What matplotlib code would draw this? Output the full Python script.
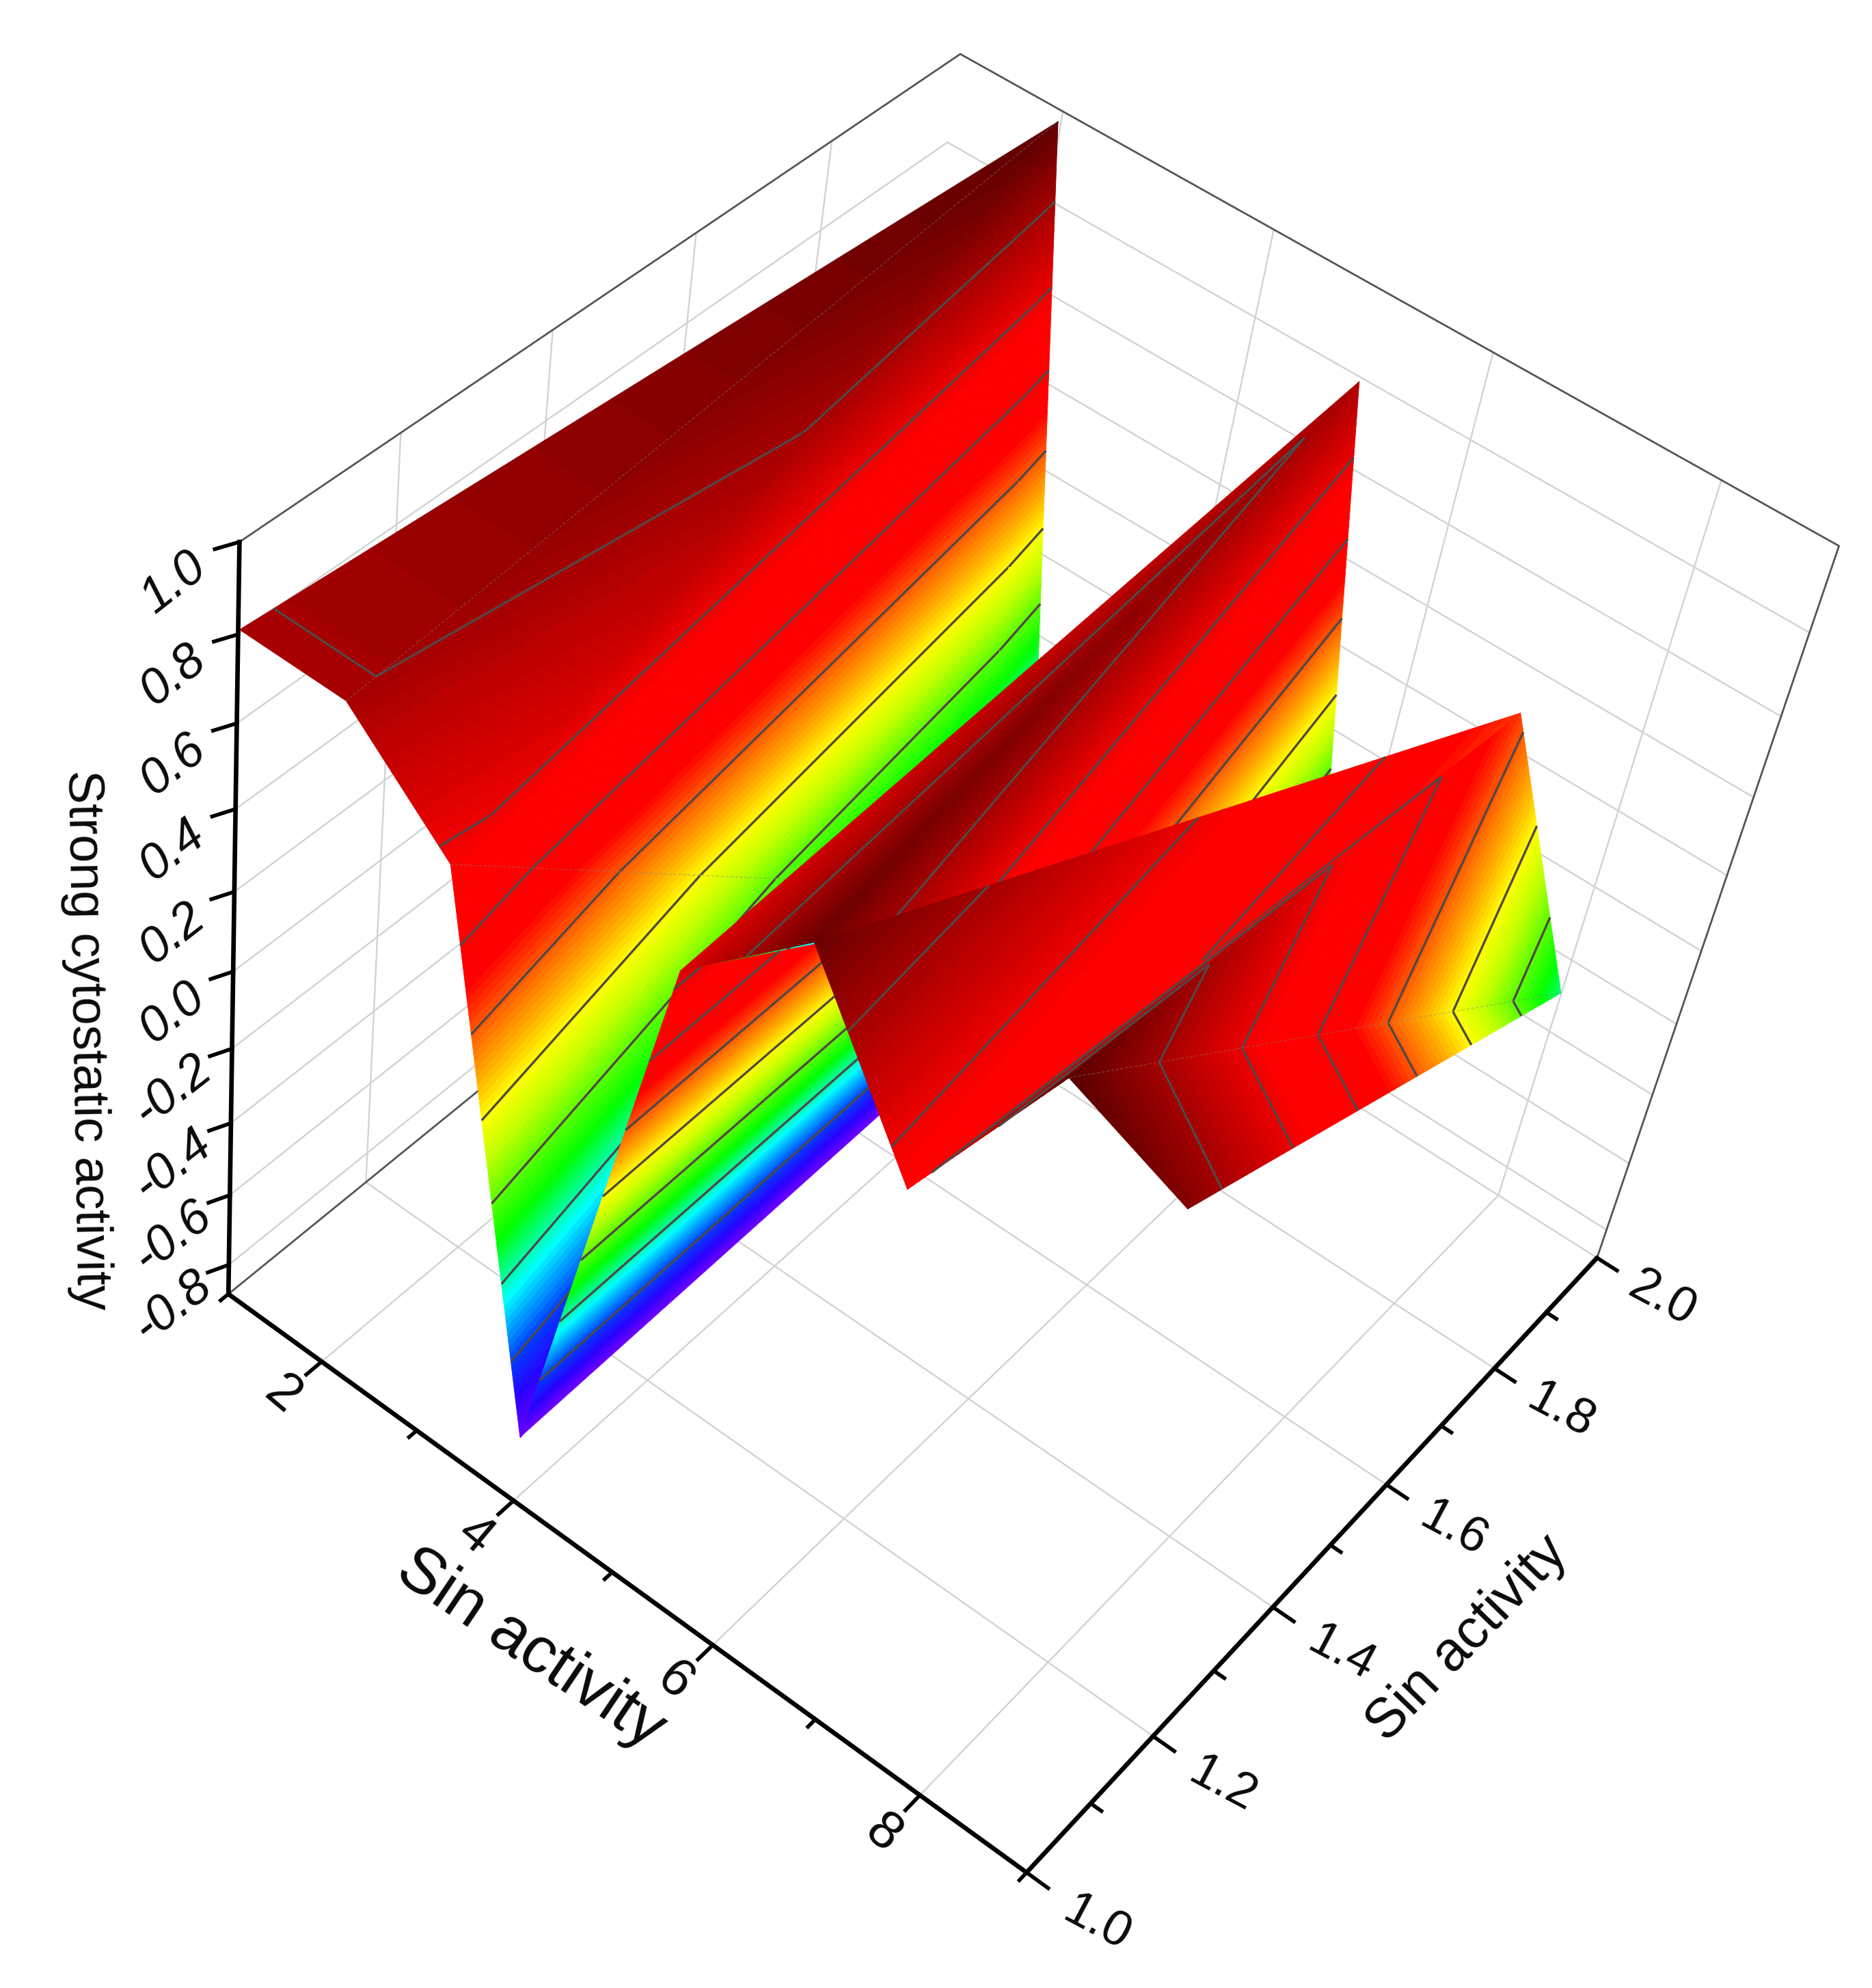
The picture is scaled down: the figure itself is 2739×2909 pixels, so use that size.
import numpy as np, matplotlib
matplotlib.use('Agg')
import matplotlib.pyplot as plt
from matplotlib.colors import LinearSegmentedColormap
from mpl_toolkits.mplot3d import proj3d
from mpl_toolkits.mplot3d.art3d import Poly3DCollection, Line3DCollection

plt.rcParams['font.family'] = ['Liberation Sans', 'DejaVu Sans']

# ---------- data ----------
names = ['A','B','C','D','E','G','F','I','H','J','Q','K','T','L','R','N','O']
xv = [0.953,1.947,2.918,3.802,4.871,6.018,6.936,8.004,9.001,1.992,2.743,2.591,3.76,4.963,5.561,6.909,7.882]
yv = [1.008,1.007,1.011,1.034,1.022,0.998,1.014,1.002,1.004,1.996,1.930,2.063,2.07,2.006,2.084,2.026,2.039]
zv = [0.793,0.793,0.576,-0.80,0.65,0.95,0.525,1.0,0.89,0.98,-0.80,-0.80,-0.80,0.78,-0.80,0.24,-0.37]
# drawn back to front
faces = ['ABJ','BCJ','CQJ','QKJ','CDQ','DKQ','DTE','GLR','EGL','INO','IHO','FIN','GFN']
seam_after = {'BJ':1,'CQ':5,'IO':10}
contour_levels = [-0.6,-0.4,-0.2,0.0,0.2,0.4,0.6,0.8]
cmap_z = [-0.8,-0.7,-0.6,-0.5,-0.45,-0.4,-0.3,-0.2,-0.1,0.0,0.1,0.2,0.3,0.55,0.8,1.0]
cmap_rgb = ['#6e00ff','#2800ff','#003cff','#00beff','#00ffff','#00ffaa','#00ff00','#5aff00','#beff00','#ffff00',
            '#ffaa00','#ff5a00','#ff0000','#ff0000','#a50000','#5a0000']
xmaj = [2,4,6,8]; xmin = [1,3,5,7,9]
ymaj = [1.0,1.2,1.4,1.6,1.8,2.0]; ymin = [1.1,1.3,1.5,1.7,1.9]
zmaj = [-0.8,-0.6,-0.4,-0.2,0.0,0.2,0.4,0.6,0.8,1.0]
XL = (1,9); YL = (1,2); ZL = (-0.886,1)

# ---------- figure and camera ----------
W, H = 2739, 2909
fig = plt.figure(figsize=(W/100, H/100), dpi=100, facecolor='white')
ax = fig.add_subplot(projection='3d', computed_zorder=False)
ax.set_xlim(*XL, view_margin=0); ax.set_ylim(*YL, view_margin=0); ax.set_zlim(*ZL, view_margin=0)
ax.view_init(45.76585, -60.21161, -10.33508)
ax.set_proj_type('persp', focal_length=0.490532)
ax.set_box_aspect((0.999692, 1.002809, 1))
ax.set_axis_off()
S, TX, TY = 14094.9885, 1452.2701, 1374.1629
vl = ax.viewLim
ax.set_position([(TX+S*vl.x0)/W, 1-(TY-S*vl.y0)/H, S*vl.width/W, S*vl.height/H])

cmap = LinearSegmentedColormap.from_list('origin', [((z-cmap_z[0])/(cmap_z[-1]-cmap_z[0]), c) for z, c in zip(cmap_z, cmap_rgb)], N=512)
def colour(z):
    return cmap((z-cmap_z[0])/(cmap_z[-1]-cmap_z[0]))

idx = {n:i for i,n in enumerate(names)}
P = np.c_[xv,yv,zv]
GRID = '#d2d2d2'; EDGE = '#555555'; CONT = '#504848'; TXT = '#0a0a0a'

def line(xs, ys, zs, **k):
    ax.plot(xs, ys, zs, clip_on=False, **k)

M = ax.get_proj()
def label(x, y, z, s, **k):
    u, v, _ = proj3d.proj_transform(np.array([x],float), np.array([y],float), np.array([z],float), M)
    ax.text2D(float(u[0]), float(v[0]), s, transform=ax.transData, ha='center', va='center',
              rotation_mode='anchor', zorder=70, color=TXT, clip_on=False, **k)

# grid
GW = 1.7
for v in xmaj:
    line([v,v],[YL[0],YL[1]],[ZL[0],ZL[0]],color=GRID,lw=GW,zorder=1)
    line([v,v],[YL[1],YL[1]],[ZL[0],ZL[1]],color=GRID,lw=GW,zorder=1)
for v in ymaj[1:-1]:
    line([XL[0],XL[1]],[v,v],[ZL[0],ZL[0]],color=GRID,lw=GW,zorder=1)
    line([XL[0],XL[0]],[v,v],[ZL[0],ZL[1]],color=GRID,lw=GW,zorder=1)
for v in zmaj[:-1]:
    line([XL[0],XL[0]],[YL[0],YL[1]],[v,v],color=GRID,lw=GW,zorder=1)
    line([XL[0],XL[1]],[YL[1],YL[1]],[v,v],color=GRID,lw=GW,zorder=1)
line([XL[0],XL[1]],[YL[1],YL[1]],[ZL[0],ZL[0]],color=GRID,lw=GW,zorder=1)
# box
line([XL[0],XL[0],XL[1],XL[1]],[YL[0],YL[1],YL[1],YL[1]],[ZL[1],ZL[1],ZL[1],ZL[0]],color=EDGE,lw=2.0,zorder=2)
line([XL[0],XL[0]],[YL[0],YL[1]],[ZL[0],ZL[0]],color=EDGE,lw=2.0,zorder=2)

# surface, band by band
def clip(poly, lo, hi):
    def cut(pts, lim, keep_above):
        out = []
        n = len(pts)
        for i in range(n):
            a, b = pts[i], pts[(i+1) % n]
            ina = a[2] >= lim if keep_above else a[2] <= lim
            inb = b[2] >= lim if keep_above else b[2] <= lim
            if ina: out.append(a)
            if ina != inb:
                out.append(a+(lim-a[2])/(b[2]-a[2])*(b-a))
        return out
    first = cut(list(poly), lo, True)
    return cut(first, hi, False) if first else []

def level_seg(tri, lev):
    pts = []
    for i in range(3):
        a, b = tri[i], tri[(i+1) % 3]
        if (a[2]-lev)*(b[2]-lev) < 0:
            pts.append(a+(lev-a[2])/(b[2]-a[2])*(b-a))
    return pts if len(pts) == 2 else None

BAND = 0.0175
edges = np.arange(-1.0, 1.05, BAND)
for k, f in enumerate(faces):
    tri = P[[idx[c] for c in f]]
    polys, cols = [], []
    for lo, hi in zip(edges[:-1], edges[1:]):
        pg = clip(tri, lo, hi)
        if len(pg) >= 3:
            polys.append(pg); cols.append(colour(np.clip((lo+hi)/2, -0.8, 1.0)))
    zo = 10+k
    ax.add_collection3d(Poly3DCollection(polys, facecolors=cols, edgecolors=cols, linewidths=0.6, zorder=zo, shade=False))
    segs = [s for s in (level_seg(tri, l) for l in contour_levels) if s is not None]
    if segs:
        ax.add_collection3d(Line3DCollection(segs, colors=CONT, linewidths=2.4, zorder=zo+0.5))
    for sm, after in seam_after.items():
        if after == k:
            a, b = P[idx[sm[0]]], P[idx[sm[1]]]
            if sm == 'CQ':
                b = a+(b-a)*0.62
            line([a[0],b[0]],[a[1],b[1]],[a[2],b[2]],color='#808080',lw=1.0,ls=(0,(3,2)),alpha=0.45,zorder=zo+0.7)

# axes
AXW = 4.8; TW = 4.0
line([XL[0],XL[1],XL[1]],[YL[0],YL[0],YL[1]],[ZL[0],ZL[0],ZL[0]],color='k',lw=AXW,zorder=60,solid_capstyle='round',solid_joinstyle='miter')
line([XL[0],XL[0]],[YL[0],YL[0]],[ZL[0],ZL[1]],color='k',lw=AXW,zorder=60,solid_capstyle='projecting')
for v in zmaj:
    line([XL[0],XL[0]-0.066],[YL[0],YL[0]-0.021],[v,v],color='k',lw=TW,zorder=60)
    label(XL[0]-0.03,YL[0]-0.075,v,f'{v:.1f}',fontsize=52,style='italic',rotation=38)
for v in xmaj:
    line([v,v],[YL[0],YL[0]-0.022],[ZL[0],ZL[0]],color='k',lw=TW,zorder=60)
    label(v,YL[0]-0.056,ZL[0],str(v),fontsize=56,rotation=-40)
for v in xmin:
    line([v,v],[YL[0],YL[0]-0.011],[ZL[0],ZL[0]],color='k',lw=TW,zorder=60)
for v in ymaj:
    line([XL[1],XL[1]+0.2],[v,v],[ZL[0],ZL[0]],color='k',lw=TW,zorder=60)
    label(XL[1]+0.65,v,ZL[0],f'{v:.1f}',fontsize=52,rotation=-28)
for v in ymin:
    line([XL[1],XL[1]+0.1],[v,v],[ZL[0],ZL[0]],color='k',lw=TW,zorder=60)

# axis titles
fig.text(776/W,1-2413/H,'Sin activity',fontsize=68,rotation=-34,ha='center',va='center',rotation_mode='anchor',color=TXT)
fig.text(2147/W,1-2398/H,'Sin activity',fontsize=58,rotation=46,ha='center',va='center',rotation_mode='anchor',color=TXT)
fig.text(126/W,1-1522/H,'Strong cytostatic activity',fontsize=53,rotation=-89,ha='center',va='center',rotation_mode='anchor',color=TXT)

fig.savefig('out.png', dpi=100)
